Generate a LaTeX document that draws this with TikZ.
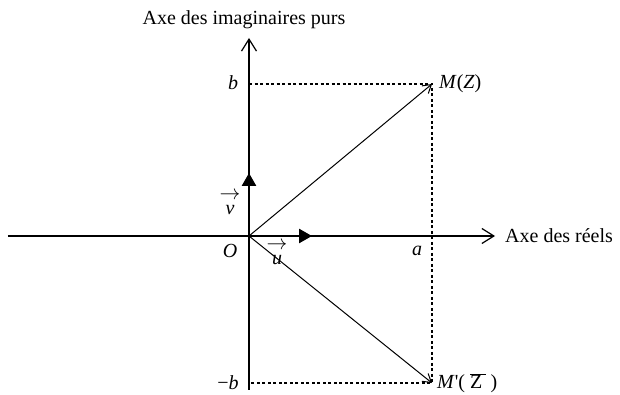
\documentclass[tikz,border=0pt]{standalone}
\usepackage{fontspec}
\setmainfont{Liberation Serif}
\usetikzlibrary{arrows.meta}
\newcommand{\arrowover}[1]{\begin{tabular}{@{}c@{}}$\rightarrow$\\[-9pt]\textit{#1}\end{tabular}}
\begin{document}
\begin{tikzpicture}[x=1pt,y=1pt, every node/.style={font=\fontsize{20}{24}\selectfont,inner sep=0pt},
  axis/.style={line width=1.2pt,-{Straight Barb[length=12pt,width=15pt,line width=1.2pt]}},
  unitvec/.style={line width=2.6pt,-{Triangle[length=13pt,width=14pt]}},
  radius/.style={line width=1pt,-{Straight Barb[length=8pt,width=10pt,line width=1pt]}},
  proj/.style={line width=1.8pt,dash pattern=on 3pt off 2.5pt}]
\useasboundingbox (-249,-159) rectangle (371,236);
\coordinate (O) at (0,0);
\coordinate (M) at (183,152);
\coordinate (Mb) at (183,-147);
\coordinate (pb) at (0,152);
\coordinate (mb) at (0,-147);
\coordinate (xl) at (-241,0);
\coordinate (xr) at (246,0);
\coordinate (yb) at (0,-154);
\coordinate (yt) at (0,198);
\coordinate (u) at (63,0);
\coordinate (v) at (0,63);
\draw[axis] (xl) -- (xr);
\draw[axis] (yb) -- (yt);
\draw[proj] (pb) -- (M) -- (Mb) -- (mb);
\draw[radius] (O) -- (M);
\draw[radius] (O) -- (Mb);
\draw[unitvec] (O) -- (u);
\draw[unitvec] (O) -- (v);
\node (imlab) at (-5,216) {Axe des imaginaires purs};
\node[anchor=west] (relab) at (256,0) {Axe des réels};
\node (blab) at (-16,153) {\textit{b}};
\node (mblab) at (-21,-147) {\char"2212\textit{b}};
\node (alab) at (168,-15) {\textit{a}};
\node (olab) at (-19,-15) {\textit{O}};
\node[anchor=west] (mlab) at (190,152) {\textit{M}(\textit{Z})};
\node[anchor=west] (mblab2) at (188,-147) {\textit{M}\textquotesingle( $\overline{\mbox{Z\,}}$ )};
\node (vlab) at (-19,34) {\arrowover{v}};
\node (ulab) at (28,-16) {\arrowover{u}};
\end{tikzpicture}
\end{document}
